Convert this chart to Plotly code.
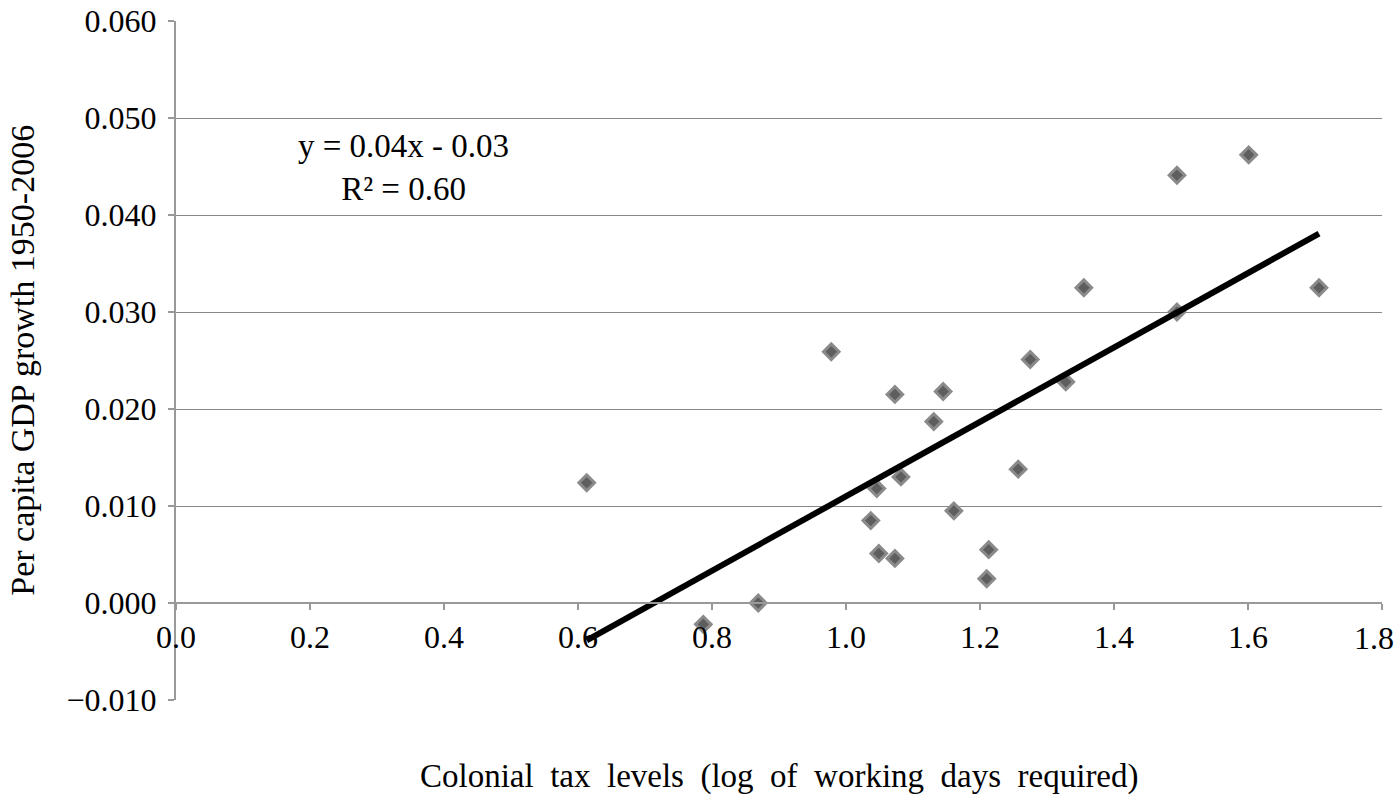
import numpy as np
import plotly.graph_objects as go

# Colonial tax levels (log of working days required)
tax_levels = [0.613, 0.787, 0.869, 0.978, 1.037, 1.046, 1.049, 1.073, 1.073, 1.082,
              1.131, 1.145, 1.161, 1.210, 1.213, 1.257, 1.275, 1.328, 1.355, 1.494,
              1.494, 1.601, 1.706]
# Per capita GDP growth 1950-2006
gdp_growth = [0.0124, -0.0022, 0.0000, 0.0259, 0.0085, 0.0118, 0.0051, 0.0046, 0.0215, 0.0130,
              0.0187, 0.0218, 0.0095, 0.0025, 0.0055, 0.0138, 0.0251, 0.0228, 0.0325, 0.0441,
              0.0300, 0.0462, 0.0325]

x_ticks = [0.0, 0.2, 0.4, 0.6, 0.8, 1.0, 1.2, 1.4, 1.6, 1.8]
y_ticks = [-0.010, 0.000, 0.010, 0.020, 0.030, 0.040, 0.050, 0.060]
equation_text = "y = 0.04x - 0.03<br>R² = 0.60"

x = np.array(tax_levels)
y = np.array(gdp_growth)
slope, intercept = np.polyfit(x, y, 1)
trend_x = np.array([x.min(), x.max()])
trend_y = slope * trend_x + intercept

FONT = "Liberation Serif, Times New Roman, serif"
TICK = 32

x_labels = [f"{v:.1f}" for v in x_ticks]
# the last label is pulled inside the page edge (as the original does), so it is drawn separately
x_ticktext = x_labels[:-1] + [""]

fig = go.Figure()
fig.add_trace(go.Scatter(
    x=tax_levels, y=gdp_growth, mode="markers",
    marker=dict(symbol="diamond", size=12, color="#5e5e5e",
                line=dict(color="#8a8a8a", width=3)),
    showlegend=False, hoverinfo="x+y"))
fig.add_trace(go.Scatter(
    x=trend_x, y=trend_y, mode="lines",
    line=dict(color="black", width=6),
    showlegend=False, hoverinfo="skip"))

y_range = [-0.010, 0.060]
zero_pos = (0 - y_range[0]) / (y_range[1] - y_range[0])

fig.update_layout(
    width=1400, height=801,
    margin=dict(l=176, r=18, t=21, b=101, autoexpand=False),
    paper_bgcolor="white", plot_bgcolor="white",
    font=dict(family=FONT, size=TICK, color="black"),
    xaxis=dict(range=[0, 1.8], tickvals=x_ticks, ticktext=x_ticktext,
               showgrid=False, zeroline=False, automargin=False,
               showline=True, linecolor="#999999", linewidth=2,
               ticks="outside", ticklen=6, tickcolor="#999999", tickwidth=2,
               anchor="free", position=zero_pos,
               ticklabelstandoff=0, ticklabeloverflow="allow",
               tickfont=dict(family=FONT, size=TICK, color="black")),
    yaxis=dict(range=y_range, tickvals=y_ticks,
               ticktext=[("\u2212" if v < 0 else "") + f"{abs(v):.3f}" for v in y_ticks],
               showgrid=True, gridcolor="#888888", gridwidth=1,
               zeroline=False, automargin=False,
               showline=True, linecolor="#999999", linewidth=2,
               ticks="outside", ticklen=6, tickcolor="#999999", tickwidth=2,
               ticklabelstandoff=5, ticklabeloverflow="allow",
               tickfont=dict(family=FONT, size=TICK, color="black")),
    annotations=[
        dict(text=x_labels[-1], x=x_ticks[-1], y=0, xref="x", yref="y",
             xanchor="right", yanchor="top", xshift=14, yshift=-15,
             showarrow=False, font=dict(family=FONT, size=TICK, color="black")),
        dict(text=equation_text, x=0.340, y=0.0449, xref="x", yref="y",
             showarrow=False, align="center",
             font=dict(family=FONT, size=33, color="black")),
        dict(text="Colonial\u00a0 tax\u00a0 levels\u00a0 (log\u00a0 of\u00a0 working\u00a0 days\u00a0 required)",
             x=0.5, y=-0.112, xref="paper", yref="paper",
             xanchor="center", yanchor="middle", showarrow=False,
             font=dict(family=FONT, size=33, color="black")),
        dict(text="Per capita GDP growth 1950-2006", textangle=-90,
             x=-0.1275, y=0.5, xref="paper", yref="paper",
             xanchor="center", yanchor="middle", showarrow=False,
             font=dict(family=FONT, size=34, color="black")),
    ],
)

fig.write_html("out.html", config={"displayModeBar": False},
               post_script="document.body.style.margin='0';document.body.style.padding='0';")
